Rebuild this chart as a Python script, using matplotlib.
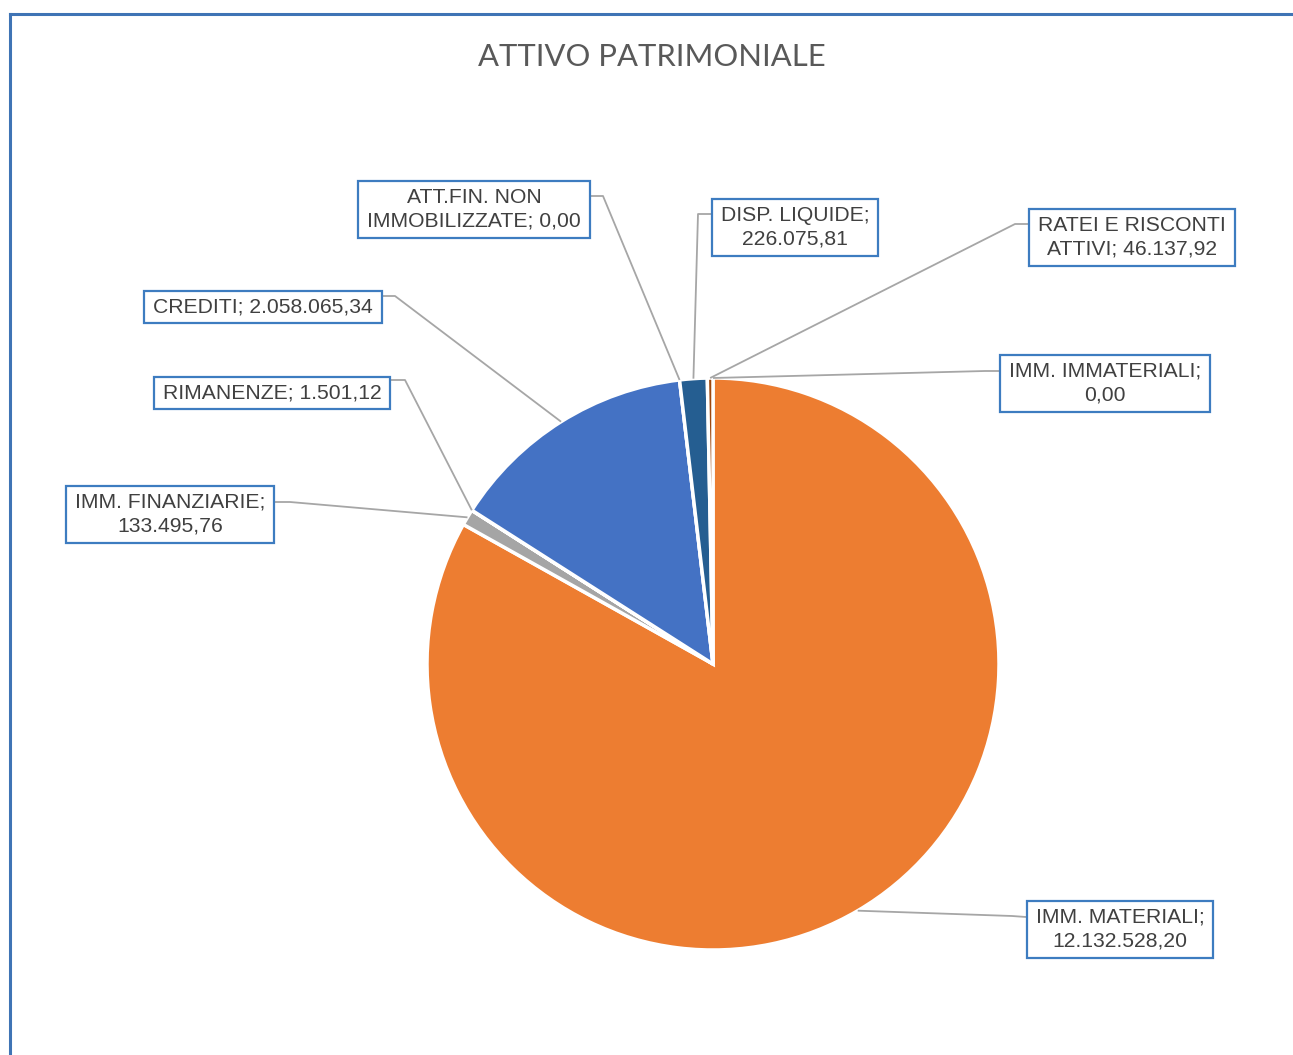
import matplotlib

matplotlib.use("Agg")

import matplotlib.pyplot as plt
from matplotlib.lines import Line2D
from matplotlib.patches import Rectangle
import numpy as np


W, H = 1293, 1055

categories = [
    "IMM. IMMATERIALI",
    "IMM. MATERIALI",
    "IMM. FINANZIARIE",
    "RIMANENZE",
    "CREDITI",
    "ATT.FIN. NON IMMOBILIZZATE",
    "DISP. LIQUIDE",
    "RATEI E RISCONTI ATTIVI",
]
values = [0.00, 12132528.20, 133495.76, 1501.12, 2058065.34, 0.00, 226075.81, 46137.92]
colors = ["#5B9BD5", "#ED7D31", "#A5A5A5", "#FFC000", "#4472C4", "#70AD47", "#255E91", "#9E480E"]

# label box centre, point where the leader leaves the box, knee, words on first line
LAYOUT = {
    "IMM. IMMATERIALI": ((1105, 383), (999, 371), (985, 371), 2),
    "IMM. MATERIALI": ((1120, 929), (1026, 917), (1012, 916), 2),
    "IMM. FINANZIARIE": ((170, 514), (275, 502), (290, 502), 2),
    "RIMANENZE": ((272, 393), (391, 380), (405, 380), None),
    "CREDITI": ((263, 307), (383, 296), (395, 296), None),
    "ATT.FIN. NON IMMOBILIZZATE": ((474, 209), (591, 196), (603, 196), 2),
    "DISP. LIQUIDE": ((795, 227), (711, 214), (698, 214), 2),
    "RATEI E RISCONTI ATTIVI": ((1132, 237), (1028, 224), (1015, 224), 3),
}

CENTER = (713, 664)
RADIUS = 286
TEXT_COLOR = "#404040"
BOX_COLOR = "#3D7CC0"
LEADER_COLOR = "#A6A6A6"
BOX_HPAD = 9
BOX_H1 = 32     # single-line box height in px
BOX_LINE = 25   # extra height per additional line


def fmt_it(v):
    s = "{:,.2f}".format(v)
    return s.replace(",", "X").replace(".", ",").replace("X", ".")


def make_label(name, value, split):
    words = ("%s; %s" % (name, fmt_it(value))).split(" ")
    if split is None:
        return " ".join(words)
    return " ".join(words[:split]) + "\n" + " ".join(words[split:])


def fy(y):
    # pixel rows run downward, data y runs upward
    return H - y


fig = plt.figure(figsize=(W / 100, H / 100), dpi=100)
ax = fig.add_axes([0, 0, 1, 1])

wedges, _ = ax.pie(
    values,
    colors=colors,
    startangle=90,
    counterclock=False,
    center=(CENTER[0], fy(CENTER[1])),
    radius=RADIUS,
    wedgeprops=dict(edgecolor="white", linewidth=2.5),
)

ax.set_xlim(0, W)
ax.set_ylim(0, H)
ax.set_aspect("equal")
ax.axis("off")

labels = []
for name, value, wedge in zip(categories, values, wedges):
    (cx, cy), (ex, ey), (kx, ky), split = LAYOUT[name]
    mid = np.deg2rad((wedge.theta1 + wedge.theta2) / 2.0)
    ax_pt = (CENTER[0] + RADIUS * np.cos(mid), fy(CENTER[1]) + RADIUS * np.sin(mid))
    ax.plot([ex, kx, ax_pt[0]], [fy(ey), fy(ky), ax_pt[1]], color=LEADER_COLOR, lw=1.3,
            solid_capstyle="butt", zorder=1)
    t = ax.text(cx, fy(cy), make_label(name, value, split), ha="center", va="center",
                fontsize=15.2, family="Liberation Sans", color=TEXT_COLOR, linespacing=1.3,
                zorder=4)
    labels.append((t, 1 if split is None else 2))

# boxes sized from the rendered text width
fig.canvas.draw()
renderer = fig.canvas.get_renderer()
inv = ax.transData.inverted()
for t, nlines in labels:
    bb = t.get_window_extent(renderer)
    (x0, _), (x1, _) = inv.transform([(bb.x0, bb.y0), (bb.x1, bb.y1)])
    cx, cy = t.get_position()
    h = BOX_H1 + BOX_LINE * (nlines - 1)
    ax.add_patch(Rectangle((x0 - BOX_HPAD, cy - h / 2), (x1 - x0) + 2 * BOX_HPAD, h,
                           facecolor="white", edgecolor=BOX_COLOR, linewidth=1.6, zorder=3))

ax.text(652, fy(57), "ATTIVO PATRIMONIALE", ha="center", va="center", fontsize=22.3,
        family="Lato", color="#595959")

# chart-area frame, only its top and left edges fall inside the image
fig.add_artist(Line2D([9.5 / W, 1], [1 - 13.5 / H, 1 - 13.5 / H], color="#3F74B5", lw=2.2))
fig.add_artist(Line2D([9.5 / W, 9.5 / W], [0, 1 - 13.5 / H], color="#3F74B5", lw=2.2))

fig.savefig("out.png", dpi=100, facecolor="white")
